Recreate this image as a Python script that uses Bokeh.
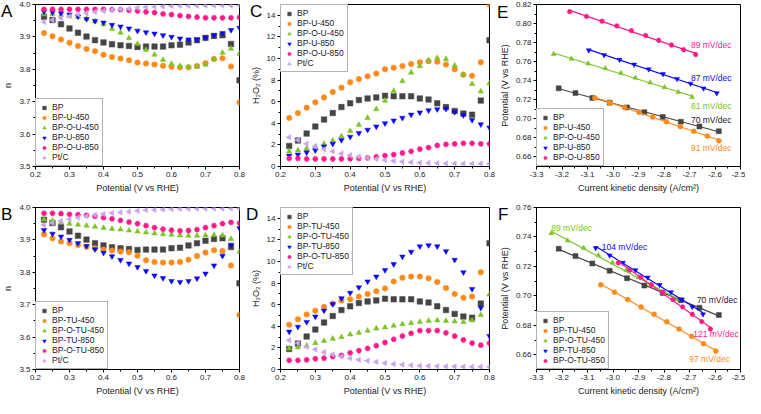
import numpy as np
from bokeh.plotting import figure
from bokeh.layouts import GridBox
from bokeh.models import Range1d, FixedTicker, Legend, LegendItem, Label, PrintfTickFormatter, Div
from bokeh.embed import file_html
from bokeh.resources import INLINE

FONT = "Liberation Sans"

# ---------------- data ----------------
potential = [0.225, 0.25, 0.275, 0.3, 0.325, 0.35, 0.375, 0.4, 0.425, 0.45, 0.475, 0.5,
             0.525, 0.55, 0.575, 0.6, 0.625, 0.65, 0.675, 0.7, 0.725, 0.75, 0.775, 0.8]

# electron transfer number n
n_BP = [3.962, 3.952, 3.939, 3.926, 3.913, 3.901, 3.890, 3.883, 3.877, 3.874, 3.872, 3.869,
        3.870, 3.870, 3.870, 3.874, 3.876, 3.883, 3.890, 3.897, 3.903, 3.905, 3.878, 3.766]
n_U450 = [3.912, 3.902, 3.892, 3.882, 3.872, 3.863, 3.856, 3.845, 3.838, 3.833, 3.828, 3.821,
          3.818, 3.815, 3.811, 3.808, 3.806, 3.806, 3.810, 3.819, 3.832, 3.834, 3.809, 3.698]
n_OU450 = [3.970, 3.970, 3.968, 3.965, 3.962, 3.956, 3.948, 3.939, 3.925, 3.913, 3.896, 3.878,
           3.860, 3.845, 3.829, 3.817, 3.810, 3.807, 3.808, 3.814, 3.831, 3.851, 3.864, 3.848]
n_U850 = [3.978, 3.976, 3.973, 3.969, 3.963, 3.955, 3.949, 3.944, 3.937, 3.932, 3.926, 3.919,
          3.914, 3.910, 3.905, 3.900, 3.895, 3.892, 3.892, 3.897, 3.905, 3.912, 3.921, 3.928]
n_OU850 = [3.985, 3.985, 3.985, 3.985, 3.985, 3.985, 3.985, 3.985, 3.984, 3.984, 3.982, 3.980,
           3.977, 3.975, 3.971, 3.969, 3.966, 3.963, 3.961, 3.959, 3.959, 3.959, 3.959, 3.960]
n_PtC = [3.946, 3.952, 3.958, 3.964, 3.969, 3.973, 3.977, 3.980, 3.983, 3.985, 3.987, 3.990,
         3.992, 3.993, 3.994, 3.995, 3.996, 3.996, 3.996, 3.997, 3.997, 3.997, 3.997, 3.997]
n_TU450 = [3.917, 3.905, 3.895, 3.890, 3.884, 3.879, 3.874, 3.870, 3.867, 3.864, 3.862, 3.851,
           3.837, 3.832, 3.830, 3.830, 3.832, 3.839, 3.850, 3.861, 3.868, 3.866, 3.821, 3.668]
n_OTU450 = [3.963, 3.959, 3.955, 3.950, 3.947, 3.944, 3.941, 3.937, 3.934, 3.932, 3.929, 3.926,
            3.923, 3.920, 3.918, 3.916, 3.914, 3.913, 3.913, 3.914, 3.915, 3.914, 3.903, 3.863]
n_TU850 = [3.930, 3.919, 3.910, 3.900, 3.890, 3.881, 3.871, 3.860, 3.849, 3.838, 3.827, 3.816,
           3.804, 3.790, 3.782, 3.773, 3.770, 3.773, 3.781, 3.796, 3.821, 3.851, 3.885, 3.936]
n_OTU850 = [3.982, 3.982, 3.981, 3.979, 3.978, 3.976, 3.973, 3.969, 3.965, 3.960, 3.955, 3.950,
            3.944, 3.938, 3.933, 3.930, 3.928, 3.929, 3.932, 3.938, 3.944, 3.950, 3.954, 3.952]

# H2O2 yield (%)
h_BP = [1.9, 2.4, 3.05, 3.7, 4.35, 4.95, 5.5, 5.85, 6.15, 6.3, 6.4, 6.55,
        6.5, 6.5, 6.5, 6.3, 6.2, 5.85, 5.5, 5.15, 4.9, 4.8, 6.1, 11.7]
h_U450 = [4.5, 4.95, 5.45, 5.95, 6.4, 6.9, 7.3, 7.8, 8.1, 8.35, 8.6, 9.0,
          9.15, 9.3, 9.5, 9.65, 9.75, 9.7, 9.45, 9.0, 8.5, 8.4, 9.65, 15.0]
h_OU450 = [1.4, 1.5, 1.65, 1.85, 2.1, 2.4, 2.8, 3.3, 3.85, 4.5, 5.3, 6.1,
           7.0, 7.9, 8.7, 9.3, 9.85, 10.05, 9.95, 9.35, 8.5, 7.65, 6.95, 7.7]
h_U850 = [1.0, 1.1, 1.3, 1.5, 1.85, 2.1, 2.45, 2.75, 3.1, 3.4, 3.7, 4.0,
          4.25, 4.5, 4.8, 5.0, 5.2, 5.3, 5.35, 5.05, 4.75, 4.3, 3.9, 3.6]
h_OU850 = [0.75, 0.75, 0.7, 0.7, 0.7, 0.7, 0.7, 0.72, 0.75, 0.8, 0.9, 1.0,
           1.1, 1.25, 1.4, 1.6, 1.75, 1.95, 2.05, 2.1, 2.15, 2.15, 2.1, 2.1]
h_PtC = [2.7, 2.45, 2.1, 1.85, 1.6, 1.4, 1.2, 1.05, 0.9, 0.8, 0.7, 0.6,
         0.5, 0.45, 0.4, 0.35, 0.32, 0.3, 0.28, 0.27, 0.26, 0.25, 0.25, 0.25]
h_TU450 = [4.15, 4.65, 5.1, 5.45, 5.8, 6.1, 6.4, 6.5, 6.75, 7.0, 7.25, 7.5,
           8.15, 8.5, 8.6, 8.6, 8.45, 8.1, 7.55, 7.0, 6.65, 6.75, 9.0, 16.6]
h_OTU450 = [1.95, 2.05, 2.2, 2.45, 2.65, 2.85, 3.0, 3.25, 3.4, 3.6, 3.8, 3.9,
            4.05, 4.2, 4.3, 4.4, 4.5, 4.55, 4.5, 4.45, 4.4, 4.55, 5.05, 6.95]
h_TU850 = [3.5, 3.95, 4.4, 4.9, 5.45, 6.05, 6.6, 7.1, 7.6, 8.15, 8.6, 9.2,
           9.75, 10.45, 10.9, 11.4, 11.5, 11.4, 10.95, 10.15, 9.0, 7.45, 5.7, 3.1]
h_OTU850 = [0.85, 0.85, 0.9, 1.0, 1.05, 1.2, 1.3, 1.55, 1.75, 1.95, 2.2, 2.5,
            2.8, 3.1, 3.35, 3.6, 3.6, 3.6, 3.4, 3.1, 2.75, 2.45, 2.25, 2.45]

# Tafel plots: log current kinetic density vs potential
tafel_BP_x = [-3.213, -3.147, -3.081, -3.013, -2.945, -2.877, -2.805, -2.734, -2.661, -2.585]
tafel_BP_y = [0.732, 0.727, 0.722, 0.717, 0.712, 0.707, 0.702, 0.697, 0.692, 0.687]
tafel_U450_x = [-3.071, -3.013, -2.955, -2.898, -2.844, -2.790, -2.736, -2.683, -2.630, -2.585]
tafel_U450_y = [0.722, 0.717, 0.712, 0.707, 0.702, 0.697, 0.692, 0.687, 0.682, 0.677]
tafel_OU450_x = [-3.233, -3.163, -3.097, -3.030, -2.969, -2.912, -2.854, -2.798, -2.744, -2.690]
tafel_OU450_y = [0.768, 0.763, 0.758, 0.753, 0.748, 0.743, 0.738, 0.733, 0.728, 0.723]
tafel_U850_x = [-3.095, -3.035, -2.974, -2.917, -2.860, -2.804, -2.749, -2.696, -2.645, -2.593]
tafel_U850_y = [0.772, 0.767, 0.762, 0.757, 0.752, 0.747, 0.742, 0.737, 0.732, 0.727]
tafel_OU850_x = [-3.170, -3.104, -3.043, -2.985, -2.928, -2.872, -2.821, -2.771, -2.723, -2.676]
tafel_OU850_y = [0.8125, 0.8075, 0.8025, 0.7975, 0.7925, 0.7875, 0.7825, 0.7775, 0.7725, 0.7675]
tafel_TU450_x = [-3.048, -2.994, -2.942, -2.890, -2.839, -2.789, -2.741, -2.692, -2.645, -2.597]
tafel_TU450_y = [0.7075, 0.7025, 0.6975, 0.6925, 0.6875, 0.6825, 0.6775, 0.6725, 0.6675, 0.6625]
tafel_OTU450_x = [-3.242, -3.178, -3.115, -3.057, -3.002, -2.948, -2.899, -2.852, -2.803, -2.754]
tafel_OTU450_y = [0.7425, 0.7375, 0.7325, 0.7275, 0.7225, 0.7175, 0.7125, 0.7075, 0.7025, 0.6975]
tafel_TU850_x = [-3.068, -3.013, -2.961, -2.912, -2.864, -2.817, -2.773, -2.730, -2.689, -2.647]
tafel_TU850_y = [0.7325, 0.7275, 0.7225, 0.7175, 0.7125, 0.7075, 0.7025, 0.6975, 0.6925, 0.6875]
tafel_OTU850_x = [-2.979, -2.935, -2.891, -2.849, -2.806, -2.765, -2.727, -2.689, -2.652, -2.618]
tafel_OTU850_y = [0.7225, 0.7175, 0.7125, 0.7075, 0.7025, 0.6975, 0.6925, 0.6875, 0.6825, 0.6775]

slopes_E = ["89 mV/dec", "87 mV/dec", "81 mV/dec", "70 mV/dec", "91 mV/dec"]
slopes_F = ["89 mV/dec", "104 mV/dec", "70 mV/dec", "121 mV/dec", "97 mV/dec"]

panel_letters = ["A", "B", "C", "D", "E", "F"]

pot_ticks = [0.2, 0.3, 0.4, 0.5, 0.6, 0.7, 0.8]
n_ticks = [3.5, 3.6, 3.7, 3.8, 3.9, 4.0]
h_ticks = [0, 2, 4, 6, 8, 10, 12, 14]
j_ticks = [-3.3, -3.2, -3.1, -3.0, -2.9, -2.8, -2.7, -2.6, -2.5]
vE_ticks = [0.66, 0.68, 0.70, 0.72, 0.74, 0.76, 0.78, 0.80, 0.82]
vF_ticks = [0.66, 0.68, 0.70, 0.72, 0.74, 0.76]

# ---------------- styles ----------------
C_BP = "#454545"
C_OR = "#FF8A1A"
C_GR = "#7CC424"
C_BL = "#0A0AF5"
C_PK = "#FF1A8C"
C_PT = "#C9A3EC"
TXT = "#222222"


def mids(t):
    t = np.asarray(t, dtype=float)
    return list((t[:-1] + t[1:]) / 2)


def make_fig(w, h, bl, br, bt, bb, xr, yr, xt, yt, xfmt, yfmt, xlabel, ylabel):
    p = figure(width=w, height=h, x_range=Range1d(*xr), y_range=Range1d(*yr),
               output_backend="svg", toolbar_location=None, tools="",
               min_border_left=bl, min_border_right=br,
               min_border_top=bt, min_border_bottom=bb)
    p.grid.visible = False
    p.outline_line_color = "black"
    p.outline_line_width = 1
    p.background_fill_color = "white"
    p.border_fill_color = "white"
    p.xaxis.ticker = FixedTicker(ticks=xt, minor_ticks=mids(xt))
    p.yaxis.ticker = FixedTicker(ticks=yt, minor_ticks=mids(yt))
    p.xaxis.formatter = PrintfTickFormatter(format=xfmt)
    p.yaxis.formatter = PrintfTickFormatter(format=yfmt)
    for ax in (p.xaxis[0], p.yaxis[0]):
        ax.axis_line_color = "black"
        ax.major_tick_in = 0
        ax.major_tick_out = 3
        ax.minor_tick_in = 0
        ax.minor_tick_out = 2
        ax.major_tick_line_color = "black"
        ax.minor_tick_line_color = "black"
        ax.major_label_text_font = FONT
        ax.major_label_text_font_size = "8px"
        ax.major_label_text_color = TXT
        ax.major_label_standoff = 2
        ax.axis_label_text_font = FONT
        ax.axis_label_text_font_size = "9px"
        ax.axis_label_text_font_style = "normal"
        ax.axis_label_text_color = TXT
        ax.axis_label_standoff = 3
    p.xaxis.axis_label = xlabel
    p.yaxis.axis_label = ylabel
    return p


def add_legend(p, items, loc):
    leg = Legend(items=[LegendItem(label=l, renderers=[r]) for l, r in items],
                 location=loc, margin=0, padding=3, spacing=0,
                 label_height=9, glyph_height=9, glyph_width=10, label_standoff=3,
                 label_text_font=FONT, label_text_font_size="8.5px", label_text_color=TXT,
                 label_text_line_height=1.0,
                 border_line_color="#666666", border_line_width=1,
                 background_fill_color="white", background_fill_alpha=1.0)
    p.add_layout(leg)


def scatter_series(p, x, y, marker, color, size=5.5, angle=0.0):
    return p.scatter(x, y, marker=marker, size=size, angle=angle,
                     fill_color=color, line_color=color, line_width=0.5)


def rde_panel(p, series, loc):
    items = []
    for label, y, marker, color, ang in series:
        r = scatter_series(p, potential, y, marker, color, angle=ang)
        items.append((label, r))
    add_legend(p, items, loc)


ROT = np.pi / 2
W1, W2, W3 = 246, 250, 249
H1, H2 = 195, 203
POT_LABEL = "Potential (V vs RHE)"
J_LABEL = "Current kinetic density (A/cm\u00b2)"
H_LABEL = "H\u2082O\u2082 (%)"

# ---- A ----
pA = make_fig(W1, H1, 31, 7, 4, 28, (0.2, 0.8), (3.5, 4.0), pot_ticks, n_ticks, "%.1f", "%.1f",
              POT_LABEL, "n")
rde_panel(pA, [("BP", n_BP, "square", C_BP, 0.0), ("BP-U-450", n_U450, "circle", C_OR, 0.0),
               ("BP-O-U-450", n_OU450, "triangle", C_GR, 0.0),
               ("BP-U-850", n_U850, "inverted_triangle", C_BL, 0.0),
               ("BP-O-U-850", n_OU850, "hex", C_PK, 0.0), ("Pt/C", n_PtC, "triangle", C_PT, ROT)],
          "bottom_left")

# ---- B ----
pB = make_fig(W1, H2, 31, 7, 12, 28, (0.2, 0.8), (3.5, 4.0), pot_ticks, n_ticks, "%.1f", "%.1f",
              POT_LABEL, "n")
rde_panel(pB, [("BP", n_BP, "square", C_BP, 0.0), ("BP-TU-450", n_TU450, "circle", C_OR, 0.0),
               ("BP-O-TU-450", n_OTU450, "triangle", C_GR, 0.0),
               ("BP-TU-850", n_TU850, "inverted_triangle", C_BL, 0.0),
               ("BP-O-TU-850", n_OTU850, "hex", C_PK, 0.0), ("Pt/C", n_PtC, "triangle", C_PT, ROT)],
          "bottom_left")

# ---- C ----
pC = make_fig(W2, H1, 34, 7, 4, 28, (0.2, 0.8), (0, 15), pot_ticks, h_ticks, "%.1f", "%d",
              POT_LABEL, H_LABEL)
rde_panel(pC, [("BP", h_BP, "square", C_BP, 0.0), ("BP-U-450", h_U450, "circle", C_OR, 0.0),
               ("BP-O-U-450", h_OU450, "triangle", C_GR, 0.0),
               ("BP-U-850", h_U850, "inverted_triangle", C_BL, 0.0),
               ("BP-O-U-850", h_OU850, "hex", C_PK, 0.0), ("Pt/C", h_PtC, "triangle", C_PT, ROT)],
          "top_left")

# ---- D ----
pD = make_fig(W2, H2, 34, 7, 12, 28, (0.2, 0.8), (0, 15), pot_ticks, h_ticks, "%.1f", "%d",
              POT_LABEL, H_LABEL)
rde_panel(pD, [("BP", h_BP, "square", C_BP, 0.0), ("BP-TU-450", h_TU450, "circle", C_OR, 0.0),
               ("BP-O-TU-450", h_OTU450, "triangle", C_GR, 0.0),
               ("BP-TU-850", h_TU850, "inverted_triangle", C_BL, 0.0),
               ("BP-O-TU-850", h_OTU850, "hex", C_PK, 0.0), ("Pt/C", h_PtC, "triangle", C_PT, ROT)],
          "top_left")


def tafel_panel(p, series, loc):
    items = []
    for label, x, y, marker, color in series:
        k, b = np.polyfit(x, y, 1)
        xx = np.array([min(x), max(x)])
        p.line(xx, k * xx + b, line_color=color, line_width=1.2)
        r = scatter_series(p, x, y, marker, color, size=5)
        items.append((label, r))
    add_legend(p, items, loc)


def slope_label(p, text, x, y, color, align):
    p.add_layout(Label(x=x, y=y, text=text, text_font=FONT, text_font_size="8.5px",
                       text_color=color, text_align=align, text_baseline="middle"))


# ---- E ----
pE = make_fig(W3, H1, 35, 5, 4, 28, (-3.3, -2.5), (0.65, 0.82), j_ticks, vE_ticks, "%.1f", "%.2f",
              J_LABEL, POT_LABEL)
tafel_panel(pE, [("BP", tafel_BP_x, tafel_BP_y, "square", C_BP),
                 ("BP-U-450", tafel_U450_x, tafel_U450_y, "circle", C_OR),
                 ("BP-O-U-450", tafel_OU450_x, tafel_OU450_y, "triangle", C_GR),
                 ("BP-U-850", tafel_U850_x, tafel_U850_y, "inverted_triangle", C_BL),
                 ("BP-O-U-850", tafel_OU850_x, tafel_OU850_y, "hex", C_PK)], "bottom_left")
for txt, yv, col in zip(slopes_E, [0.777, 0.7433, 0.714, 0.699, 0.669], [C_PK, C_BL, C_GR, TXT, C_OR]):
    slope_label(pE, txt, -2.535, yv, col, "right")

# ---- F ----
pF = make_fig(W3, H2, 35, 5, 12, 28, (-3.3, -2.5), (0.65, 0.76), j_ticks, vF_ticks, "%.1f", "%.2f",
              J_LABEL, POT_LABEL)
tafel_panel(pF, [("BP", tafel_BP_x, tafel_BP_y, "square", C_BP),
                 ("BP-TU-450", tafel_TU450_x, tafel_TU450_y, "circle", C_OR),
                 ("BP-O-TU-450", tafel_OTU450_x, tafel_OTU450_y, "triangle", C_GR),
                 ("BP-TU-850", tafel_TU850_x, tafel_TU850_y, "inverted_triangle", C_BL),
                 ("BP-O-TU-850", tafel_OTU850_x, tafel_OTU850_y, "hex", C_PK)], "bottom_left")
for txt, xv, yv, col in zip(slopes_F, [-3.242, -3.044, -2.671, -2.685, -2.701],
                            [0.7458, 0.7334, 0.697, 0.6742, 0.6572], [C_GR, C_BL, TXT, C_PK, C_OR]):
    slope_label(pF, txt, xv, yv, col, "left")


# ---- panel letters: small text boxes stacked over the top-left corner of each cell ----
def letter_box(letter, left, top):
    return Div(text=letter, width=16, height=20, align="start", margin=(top, 0, 0, left),
               styles={"font-family": FONT, "font-size": "17px", "line-height": "17px",
                       "color": "#000000", "padding": "0px", "overflow": "visible"})


lA = letter_box(panel_letters[0], 1, 3)
lB = letter_box(panel_letters[1], 1, 11)
lC = letter_box(panel_letters[2], 4, 3)
lD = letter_box(panel_letters[3], 0, 11)
lE = letter_box(panel_letters[4], 1, 4)
lF = letter_box(panel_letters[5], 2, 11)

layout = GridBox(children=[(pA, 0, 0), (pC, 0, 1), (pE, 0, 2),
                           (pB, 1, 0), (pD, 1, 1), (pF, 1, 2),
                           (lA, 0, 0), (lC, 0, 1), (lE, 0, 2),
                           (lB, 1, 0), (lD, 1, 1), (lF, 1, 2)], spacing=0)
open("out.html", "w").write(file_html(layout, INLINE))
